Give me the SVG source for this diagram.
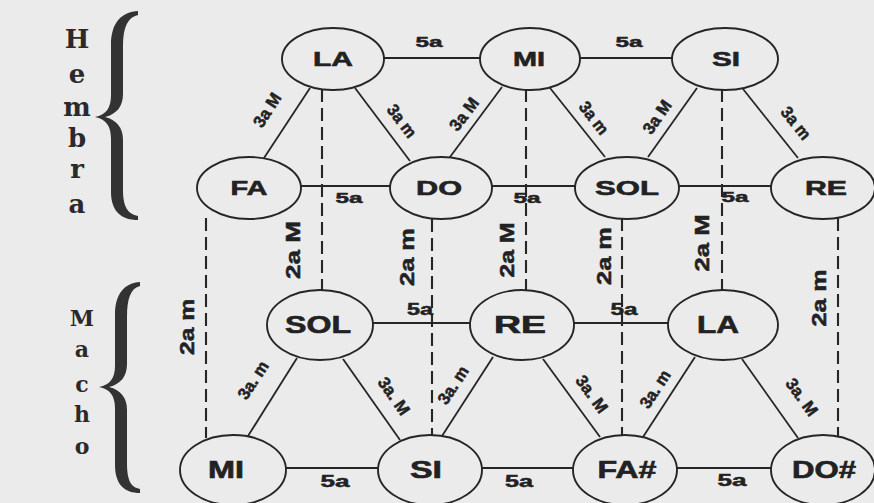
<svg xmlns="http://www.w3.org/2000/svg" width="874" height="503" viewBox="0 0 874 503">
<style>
.bg{fill:#ebebeb}
.nd{fill:#ebebeb;stroke:#262626;stroke-width:1.9}
.nt{font-family:"Liberation Sans",Arial,sans-serif;font-weight:bold;fill:#222;stroke:#222;stroke-width:0.6;text-anchor:middle}
.t1{font-size:21px}
.t2{font-size:23px}
.ln{stroke:#262626;stroke-width:1.8;fill:none}
.ds{stroke:#262626;stroke-width:2.1;fill:none;stroke-dasharray:13 6}
.lb{font-family:"Liberation Sans",Arial,sans-serif;font-weight:bold;fill:#222;stroke:#222;stroke-width:0.5;text-anchor:middle}
.l5{font-size:15px}
.l5b{font-size:17px}
.l3{font-size:17px}
.l2{font-size:20px}
.side{font-family:"DejaVu Serif","Liberation Serif",serif;font-weight:bold;fill:#2a2a2a;text-anchor:middle}
.brace{fill:#333}
</style>
<rect class="bg" x="0" y="0" width="874" height="503"/>

<g id="side-labels">
  <g id="hembra">
    <path class="brace" d="M138,11 C122,12 111,22 111,45 L111,95 C111,108 106,115 95,117 C106,119 111,126 111,139 L111,192 C111,212 122,220 138,220 L138,216 C128,214 123,207 123,190 L123,140 C123,128 117,120 105,117 C117,114 123,106 123,94 L123,45 C123,27 128,17 138,15 Z"/>
    <text class="side" x="77" y="48" font-size="26">H</text>
    <text class="side" x="77" y="83" font-size="26">e</text>
    <text class="side" x="77" y="116" font-size="26">m</text>
    <text class="side" x="77" y="147" font-size="26">b</text>
    <text class="side" x="77" y="178" font-size="26">r</text>
    <text class="side" x="77" y="213" font-size="26">a</text>
  </g>
  <g id="macho">
    <path class="brace" d="M140,282 C125,283 115,293 115,315 L115,366 C115,378 110,385 99,387 C110,389 115,396 115,408 L115,465 C115,485 125,493 140,493 L140,489 C131,487 127,481 127,463 L127,410 C127,398 121,390 109,387 C121,384 127,376 127,364 L127,317 C127,298 131,288 140,286 Z"/>
    <text class="side" x="82" y="326" font-size="22">M</text>
    <text class="side" x="82" y="357" font-size="22">a</text>
    <text class="side" x="82" y="392" font-size="22">c</text>
    <text class="side" x="82" y="422" font-size="22">h</text>
    <text class="side" x="82" y="454" font-size="22">o</text>
  </g>
</g>

<g id="connectors">
  <line class="ln" x1="384" y1="58" x2="480" y2="58"/>
  <line class="ln" x1="580" y1="58" x2="672" y2="58"/>
  <line class="ln" x1="301" y1="186" x2="390" y2="186"/>
  <line class="ln" x1="492" y1="186" x2="575" y2="186"/>
  <line class="ln" x1="679" y1="186" x2="771" y2="186"/>
  <line class="ln" x1="373" y1="323" x2="470" y2="323"/>
  <line class="ln" x1="574" y1="323" x2="668" y2="323"/>
  <line class="ln" x1="286" y1="468" x2="378" y2="468"/>
  <line class="ln" x1="482" y1="468" x2="573" y2="468"/>
  <line class="ln" x1="677" y1="468" x2="771" y2="468"/>
  <line class="ln" x1="264" y1="158" x2="310" y2="88"/>
  <line class="ln" x1="355" y1="88" x2="410" y2="161"/>
  <line class="ln" x1="502" y1="87" x2="450" y2="157"/>
  <line class="ln" x1="550" y1="88" x2="605" y2="157"/>
  <line class="ln" x1="697" y1="88" x2="648" y2="157"/>
  <line class="ln" x1="743" y1="89" x2="798" y2="158"/>
  <line class="ln" x1="297" y1="358" x2="248" y2="436"/>
  <line class="ln" x1="343" y1="359" x2="400" y2="440"/>
  <line class="ln" x1="493" y1="357" x2="442" y2="436"/>
  <line class="ln" x1="543" y1="359" x2="600" y2="437"/>
  <line class="ln" x1="695" y1="357" x2="643" y2="437"/>
  <line class="ln" x1="742" y1="359" x2="798" y2="438"/>
  <line class="ds" x1="322" y1="89" x2="322" y2="291"/>
  <line class="ds" x1="206" y1="218" x2="206" y2="438"/>
  <line class="ds" x1="432" y1="219" x2="432" y2="436"/>
  <line class="ds" x1="526" y1="89" x2="526" y2="291"/>
  <line class="ds" x1="622" y1="218" x2="622" y2="436"/>
  <line class="ds" x1="722" y1="89" x2="722" y2="291"/>
  <line class="ds" x1="838" y1="218" x2="838" y2="437"/>

  <text class="lb l5" x="429" y="47" textLength="27" lengthAdjust="spacingAndGlyphs">5a</text>
  <text class="lb l5" x="629" y="47" textLength="27" lengthAdjust="spacingAndGlyphs">5a</text>
  <text class="lb l5" x="349" y="203" textLength="27" lengthAdjust="spacingAndGlyphs">5a</text>
  <text class="lb l5" x="527" y="203" textLength="27" lengthAdjust="spacingAndGlyphs">5a</text>
  <text class="lb l5" x="735" y="202" textLength="27" lengthAdjust="spacingAndGlyphs">5a</text>
  <text class="lb l5b" x="420" y="315" textLength="26" lengthAdjust="spacingAndGlyphs">5a</text>
  <text class="lb l5b" x="624" y="315" textLength="27" lengthAdjust="spacingAndGlyphs">5a</text>
  <text class="lb l5b" x="335" y="487" textLength="29" lengthAdjust="spacingAndGlyphs">5a</text>
  <text class="lb l5b" x="519" y="487" textLength="28" lengthAdjust="spacingAndGlyphs">5a</text>
  <text class="lb l5b" x="732" y="486" textLength="29" lengthAdjust="spacingAndGlyphs">5a</text>

  <text class="lb l3" transform="translate(267,110) rotate(-57)" dy="0.35em" textLength="37" lengthAdjust="spacingAndGlyphs">3a M</text>
  <text class="lb l3" transform="translate(402,121) rotate(53)" dy="0.35em" textLength="37" lengthAdjust="spacingAndGlyphs">3a m</text>
  <text class="lb l3" transform="translate(464,114) rotate(-53)" dy="0.35em" textLength="37" lengthAdjust="spacingAndGlyphs">3a M</text>
  <text class="lb l3" transform="translate(594,118) rotate(52)" dy="0.35em" textLength="37" lengthAdjust="spacingAndGlyphs">3a m</text>
  <text class="lb l3" transform="translate(657,117) rotate(-55)" dy="0.35em" textLength="37" lengthAdjust="spacingAndGlyphs">3a M</text>
  <text class="lb l3" transform="translate(796,123) rotate(51)" dy="0.35em" textLength="37" lengthAdjust="spacingAndGlyphs">3a m</text>
  <text class="lb l3" transform="translate(253,380) rotate(-57)" dy="0.35em" textLength="42" lengthAdjust="spacingAndGlyphs">3a. m</text>
  <text class="lb l3" transform="translate(394,396) rotate(55)" dy="0.35em" textLength="42" lengthAdjust="spacingAndGlyphs">3a. M</text>
  <text class="lb l3" transform="translate(453,385) rotate(-57)" dy="0.35em" textLength="42" lengthAdjust="spacingAndGlyphs">3a. m</text>
  <text class="lb l3" transform="translate(592,394) rotate(54)" dy="0.35em" textLength="42" lengthAdjust="spacingAndGlyphs">3a. M</text>
  <text class="lb l3" transform="translate(655,389) rotate(-57)" dy="0.35em" textLength="42" lengthAdjust="spacingAndGlyphs">3a. m</text>
  <text class="lb l3" transform="translate(802,397) rotate(54)" dy="0.35em" textLength="42" lengthAdjust="spacingAndGlyphs">3a. M</text>

  <text class="lb l2" transform="translate(293,250) rotate(-90)" dy="0.35em" textLength="58" lengthAdjust="spacingAndGlyphs">2a M</text>
  <text class="lb l2" transform="translate(187,327) rotate(-90)" dy="0.35em" textLength="56" lengthAdjust="spacingAndGlyphs">2a m</text>
  <text class="lb l2" transform="translate(407,257) rotate(-90)" dy="0.35em" textLength="58" lengthAdjust="spacingAndGlyphs">2a m</text>
  <text class="lb l2" transform="translate(507,250) rotate(-90)" dy="0.35em" textLength="55" lengthAdjust="spacingAndGlyphs">2a M</text>
  <text class="lb l2" transform="translate(604,256) rotate(-90)" dy="0.35em" textLength="58" lengthAdjust="spacingAndGlyphs">2a m</text>
  <text class="lb l2" transform="translate(702,243) rotate(-90)" dy="0.35em" textLength="57" lengthAdjust="spacingAndGlyphs">2a M</text>
  <text class="lb l2" transform="translate(819,298) rotate(-90)" dy="0.35em" textLength="57" lengthAdjust="spacingAndGlyphs">2a m</text>
</g>

<g id="node-LA-top"><ellipse class="nd" cx="333" cy="59" rx="51" ry="31"/><text class="nt t1" x="333" y="66" textLength="40" lengthAdjust="spacingAndGlyphs">LA</text></g>
<g id="node-MI-top"><ellipse class="nd" cx="530" cy="59" rx="50" ry="31"/><text class="nt t1" x="529" y="66" textLength="32" lengthAdjust="spacingAndGlyphs">MI</text></g>
<g id="node-SI-top"><ellipse class="nd" cx="725" cy="59" rx="53" ry="31"/><text class="nt t1" x="726" y="66" textLength="28" lengthAdjust="spacingAndGlyphs">SI</text></g>
<g id="node-FA"><ellipse class="nd" cx="249" cy="188" rx="52" ry="31"/><text class="nt t1" x="249" y="195" textLength="37" lengthAdjust="spacingAndGlyphs">FA</text></g>
<g id="node-DO"><ellipse class="nd" cx="441" cy="188" rx="51" ry="31"/><text class="nt t1" x="439" y="195" textLength="46" lengthAdjust="spacingAndGlyphs">DO</text></g>
<g id="node-SOL-top"><ellipse class="nd" cx="627" cy="188" rx="52" ry="31"/><text class="nt t1" x="627" y="195" textLength="64" lengthAdjust="spacingAndGlyphs">SOL</text></g>
<g id="node-RE-top"><ellipse class="nd" cx="823" cy="188" rx="52" ry="31"/><text class="nt t1" x="826" y="195" textLength="42" lengthAdjust="spacingAndGlyphs">RE</text></g>
<g id="node-SOL-bottom"><ellipse class="nd" cx="320" cy="325" rx="53" ry="35"/><text class="nt t2" x="318" y="333" textLength="66" lengthAdjust="spacingAndGlyphs">SOL</text></g>
<g id="node-RE-bottom"><ellipse class="nd" cx="522" cy="325" rx="52" ry="35"/><text class="nt t2" x="520" y="333" textLength="52" lengthAdjust="spacingAndGlyphs">RE</text></g>
<g id="node-LA-bottom"><ellipse class="nd" cx="723" cy="325" rx="55" ry="35"/><text class="nt t2" x="718" y="333" textLength="42" lengthAdjust="spacingAndGlyphs">LA</text></g>
<g id="node-MI-bottom"><ellipse class="nd" cx="233" cy="470" rx="53" ry="35"/><text class="nt t2" x="226" y="478" textLength="36" lengthAdjust="spacingAndGlyphs">MI</text></g>
<g id="node-SI-bottom"><ellipse class="nd" cx="430" cy="470" rx="52" ry="35"/><text class="nt t2" x="426" y="478" textLength="32" lengthAdjust="spacingAndGlyphs">SI</text></g>
<g id="node-FAsharp"><ellipse class="nd" cx="625" cy="470" rx="52" ry="35"/><text class="nt t2" x="627" y="478" textLength="59" lengthAdjust="spacingAndGlyphs">FA#</text></g>
<g id="node-DOsharp"><ellipse class="nd" cx="823" cy="470" rx="52" ry="35"/><text class="nt t2" x="824" y="478" textLength="64" lengthAdjust="spacingAndGlyphs">DO#</text></g>
</svg>
